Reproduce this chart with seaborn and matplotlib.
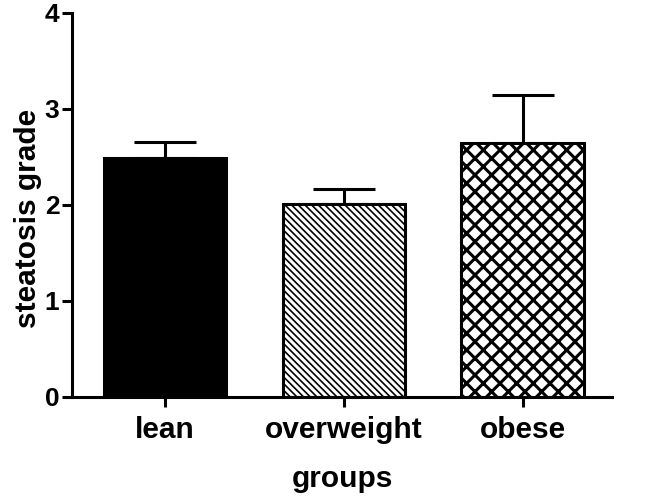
import matplotlib
matplotlib.use("Agg")
import matplotlib.pyplot as plt
import seaborn as sns
import pandas as pd

groups = ["lean", "overweight", "obese"]
means = [2.49, 2.01, 2.65]
errors = [0.17, 0.16, 0.50]
hatches = ["", "\\" * 5, "xx"]
faces = ["black", "white", "white"]

sns.set_theme(style="ticks")
plt.rcParams["font.family"] = ["Liberation Sans", "DejaVu Sans"]
plt.rcParams["font.weight"] = "bold"
plt.rcParams["hatch.color"] = "black"
plt.rcParams["text.color"] = "black"
plt.rcParams["axes.labelcolor"] = "black"
plt.rcParams["xtick.color"] = "black"
plt.rcParams["ytick.color"] = "black"
plt.rcParams["axes.edgecolor"] = "black"

df = pd.DataFrame({"groups": groups, "grade": means})

fig = plt.figure(figsize=(6.5, 4.96), dpi=100)
ax = fig.add_axes([72 / 650, 1 - 397 / 496, (612 - 72) / 650, (397 - 13) / 496])

sns.barplot(data=df, x="groups", y="grade", ax=ax, width=0.685,
            color="white", edgecolor="black", linewidth=2.2, errorbar=None)

for patch, face, hatch in zip(ax.patches, faces, hatches):
    patch.set_facecolor(face)
    patch.set_hatch(hatch)
    if hasattr(patch, "set_hatch_linewidth"):
        patch.set_hatch_linewidth(2.2 if "x" in hatch else 1.2)
    patch.set_zorder(2)

ax.errorbar(range(len(groups)), means, yerr=[[0] * len(groups), errors],
            fmt="none", ecolor="black", elinewidth=2.2, capsize=22,
            capthick=2.2, zorder=1)

ax.set_xlim(-0.52, 2.5)
ax.set_ylim(0, 4)
ax.set_yticks([0, 1, 2, 3, 4])
sns.despine(ax=ax)
for side in ["left", "bottom"]:
    ax.spines[side].set_linewidth(2.2)
ax.tick_params(axis="both", width=2.2, length=7, pad=2, colors="black")
ax.tick_params(axis="y", labelsize=19)
ax.tick_params(axis="x", labelsize=21.5, pad=7)
for lab in ax.get_xticklabels() + ax.get_yticklabels():
    lab.set_fontweight("bold")

ax.set_xlabel("groups", fontsize=21.5, fontweight="bold", labelpad=15,
              color="black")
ax.set_ylabel("steatosis grade", fontsize=21.5, fontweight="bold",
              color="black")
ax.yaxis.set_label_coords(-0.056, 0.465)

fig.savefig("out.png", dpi=100)
